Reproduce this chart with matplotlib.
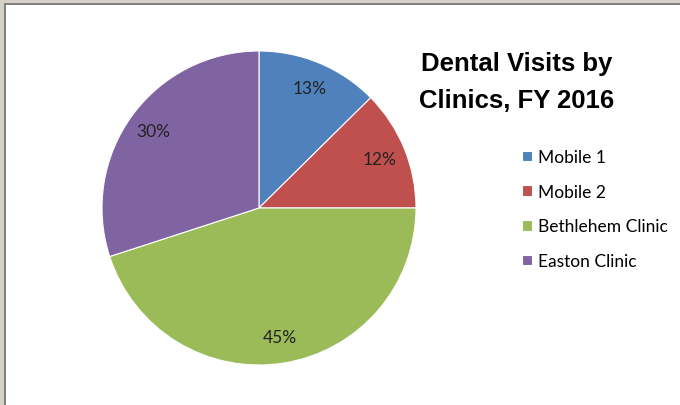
import matplotlib.pyplot as plt
from matplotlib.patches import Rectangle

clinics = ['Mobile 1', 'Mobile 2', 'Bethlehem Clinic', 'Easton Clinic']
shares = [12.6, 12.4, 45.0, 30.0]
colors = ['#4F81BD', '#C0504D', '#9BBB59', '#8064A2']

W, H = 680, 406
fig = plt.figure(figsize=(W / 100, H / 100), dpi=100)
fig.patch.set_facecolor('#D4D0C8')

# white chart area with a grey frame on top and left
fig.patches.append(Rectangle((4 / W, 0), 1, (H - 4) / H, transform=fig.transFigure,
                             facecolor='#808080', edgecolor='none', zorder=-2))
fig.patches.append(Rectangle((6 / W, 0), 1, (H - 6) / H, transform=fig.transFigure,
                             facecolor='white', edgecolor='none', zorder=-1))

cx, cy, r = 259, H - 209, 157
ax = fig.add_axes([(cx - r) / W, (cy - r) / H, 2 * r / W, 2 * r / H])
ax.set_zorder(1)
ax.patch.set_visible(False)
wedges, texts, autotexts = ax.pie(
    shares, colors=colors, startangle=90, counterclock=False,
    autopct='%.0f%%', pctdistance=0.83,
    wedgeprops=dict(edgecolor='white', linewidth=0.8),
    textprops=dict(fontsize=12.5, family='Lato', color='#222222'))
ax.set_xlim(-1, 1)
ax.set_ylim(-1, 1)
ax.set_aspect('equal')
ax.axis('off')

fig.text(517 / W, 1 - 64 / H, 'Dental Visits by', ha='center', va='center',
         fontsize=18.5, fontweight='bold', family='Liberation Sans')
fig.text(517 / W, 1 - 101 / H, 'Clinics, FY 2016', ha='center', va='center',
         fontsize=18.5, fontweight='bold', family='Liberation Sans')

fig.legend(wedges, clinics, loc='upper left', bbox_to_anchor=(522 / W, 1 - 150 / H),
           frameon=False, handlelength=0.55, handleheight=0.55, handletextpad=0.4,
           labelspacing=1.08, borderpad=0, borderaxespad=0,
           prop=dict(family='Lato', size=12.5))

fig.savefig('out.png', dpi=100, facecolor=fig.get_facecolor())
